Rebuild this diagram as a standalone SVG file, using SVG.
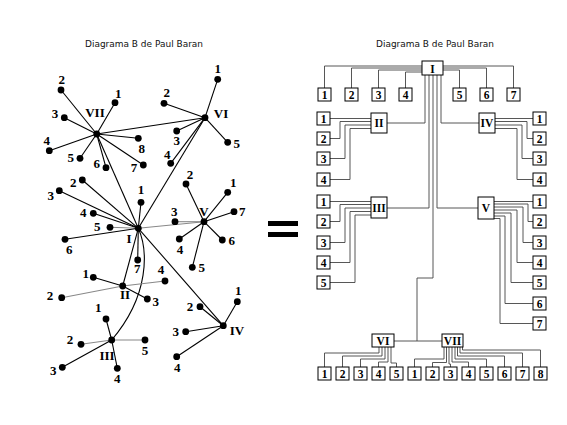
<svg xmlns="http://www.w3.org/2000/svg" width="567" height="425" viewBox="0 0 567 425">
<style>
.title{font-family:"DejaVu Sans","Liberation Sans",sans-serif;font-size:9.5px;fill:#111;text-anchor:middle}
.lbl{font-family:"Liberation Serif","Times New Roman",serif;font-weight:bold;font-size:13px;fill:#000;text-anchor:middle}
.hub{font-family:"Liberation Serif","Times New Roman",serif;font-weight:bold;font-size:13px;fill:#000;text-anchor:middle}
.e{stroke:#000;stroke-width:1.1;fill:none}
.eg{stroke:#888;stroke-width:1.1;fill:none}
.c{stroke:#444;stroke-width:0.9;fill:none}
.box{fill:#fff;stroke:#000;stroke-width:1}
.bt{font-family:"Liberation Serif","Times New Roman",serif;font-weight:bold;font-size:11.5px;fill:#000;text-anchor:middle}
</style>
<defs>
<circle id="dot" r="3.4" fill="#000"/>
</defs>
<rect width="567" height="425" fill="#fff"/>
<text class="title" x="144" y="47" textLength="118" lengthAdjust="spacingAndGlyphs">Diagrama B de Paul Baran</text>
<text class="title" x="435" y="47" textLength="118" lengthAdjust="spacingAndGlyphs">Diagrama B de Paul Baran</text>

<!-- LEFT: connectors -->
<g id="left-edges">
<line class="e" x1="96.7" y1="134" x2="205" y2="117.7"/>
<line class="e" x1="96.7" y1="134" x2="138.3" y2="228.3" stroke-width="1.6"/>
<line class="e" x1="205" y1="117.7" x2="138.3" y2="228.3"/>
<line class="eg" x1="138.3" y1="228.3" x2="204" y2="221.7"/>
<line class="e" x1="138.3" y1="228.3" x2="122.7" y2="286"/>
<line class="e" x1="138.3" y1="228.3" x2="223.3" y2="325.7"/>
<path class="e" d="M138.3,228.3 C148,250 150,295 111.7,340"/>
<!-- VII -->
<line class="e" x1="96.7" y1="134" x2="115" y2="102.7"/>
<line class="e" x1="96.7" y1="134" x2="61" y2="90"/>
<line class="e" x1="96.7" y1="134" x2="64.3" y2="117.7"/>
<line class="e" x1="96.7" y1="134" x2="49.3" y2="150.7"/>
<line class="e" x1="96.7" y1="134" x2="80" y2="158.3"/>
<line class="e" x1="96.7" y1="134" x2="106" y2="167.7"/>
<line class="e" x1="96.7" y1="134" x2="143.3" y2="165"/>
<line class="e" x1="96.7" y1="134" x2="138.3" y2="138.3"/>
<!-- VI -->
<line class="e" x1="205" y1="117.7" x2="217.7" y2="79.3"/>
<line class="e" x1="205" y1="117.7" x2="164" y2="103.3"/>
<line class="e" x1="205" y1="117.7" x2="176.7" y2="131"/>
<line class="e" x1="205" y1="117.7" x2="170.7" y2="163.3"/>
<line class="e" x1="205" y1="117.7" x2="227.7" y2="142.3"/>
<!-- I -->
<line class="e" x1="138.3" y1="228.3" x2="141" y2="202.3"/>
<line class="e" x1="138.3" y1="228.3" x2="82.3" y2="180"/>
<line class="e" x1="138.3" y1="228.3" x2="59.3" y2="190.7"/>
<line class="e" x1="138.3" y1="228.3" x2="93.3" y2="213.3"/>
<line class="eg" x1="138.3" y1="228.3" x2="110" y2="227.3"/>
<line class="e" x1="138.3" y1="228.3" x2="65" y2="239.3"/>
<line class="e" x1="138.3" y1="228.3" x2="137.7" y2="260"/>
<!-- V -->
<line class="e" x1="204" y1="221.7" x2="227.7" y2="192.3"/>
<line class="e" x1="204" y1="221.7" x2="186" y2="184"/>
<line class="eg" x1="204" y1="221.7" x2="175" y2="221.7"/>
<line class="e" x1="204" y1="221.7" x2="179.3" y2="239"/>
<line class="e" x1="204" y1="221.7" x2="192.3" y2="267.3"/>
<line class="e" x1="204" y1="221.7" x2="222.3" y2="240"/>
<line class="e" x1="204" y1="221.7" x2="234" y2="211.7"/>
<!-- II -->
<line class="e" x1="122.7" y1="286" x2="93.3" y2="277.3"/>
<line class="eg" x1="122.7" y1="286" x2="61.7" y2="297.7"/>
<line class="e" x1="122.7" y1="286" x2="147.3" y2="299"/>
<line class="eg" x1="122.7" y1="286" x2="165" y2="281"/>
<!-- III -->
<line class="e" x1="111.7" y1="340" x2="106" y2="319"/>
<line class="eg" x1="111.7" y1="340" x2="81" y2="344.3"/>
<line class="e" x1="111.7" y1="340" x2="62.3" y2="367.3"/>
<line class="e" x1="111.7" y1="340" x2="117.3" y2="368.3"/>
<line class="eg" x1="111.7" y1="340" x2="145" y2="340"/>
<!-- IV -->
<line class="e" x1="223.3" y1="325.7" x2="237.3" y2="301.7"/>
<line class="e" x1="223.3" y1="325.7" x2="200" y2="306.7"/>
<line class="e" x1="223.3" y1="325.7" x2="185.7" y2="331.7"/>
<line class="e" x1="223.3" y1="325.7" x2="176.7" y2="356.7"/>
</g>

<!-- LEFT: hubs -->
<g id="L-I"><use href="#dot" x="138.3" y="228.3"/><text class="hub" x="129" y="243">I</text></g>
<g id="L-II"><use href="#dot" x="122.7" y="286"/><text class="hub" x="125" y="299">II</text></g>
<g id="L-III"><use href="#dot" x="111.7" y="340"/><text class="hub" x="107" y="360">III</text></g>
<g id="L-IV"><use href="#dot" x="223.3" y="325.7"/><text class="hub" x="237" y="335">IV</text></g>
<g id="L-V"><use href="#dot" x="204" y="221.7"/><text class="hub" x="204" y="216">V</text></g>
<g id="L-VI"><use href="#dot" x="205" y="117.7"/><text class="hub" x="221" y="118">VI</text></g>
<g id="L-VII"><use href="#dot" x="96.7" y="134"/><text class="hub" x="95" y="117">VII</text></g>

<!-- LEFT: leaves -->
<g id="L-VII-1"><use href="#dot" x="115" y="102.7"/><text class="lbl" x="118.3" y="97.8">1</text></g>
<g id="L-VII-2"><use href="#dot" x="61" y="90"/><text class="lbl" x="61.7" y="83.8">2</text></g>
<g id="L-VII-3"><use href="#dot" x="64.3" y="117.7"/><text class="lbl" x="55" y="117.8">3</text></g>
<g id="L-VII-4"><use href="#dot" x="49.3" y="150.7"/><text class="lbl" x="46.7" y="145.2">4</text></g>
<g id="L-VII-5"><use href="#dot" x="80" y="158.3"/><text class="lbl" x="70.7" y="161.8">5</text></g>
<g id="L-VII-6"><use href="#dot" x="106" y="167.7"/><text class="lbl" x="96.7" y="167.8">6</text></g>
<g id="L-VII-7"><use href="#dot" x="143.3" y="165"/><text class="lbl" x="134" y="171.8">7</text></g>
<g id="L-VII-8"><use href="#dot" x="138.3" y="138.3"/><text class="lbl" x="141.7" y="152.8">8</text></g>
<g id="L-VI-1"><use href="#dot" x="217.7" y="79.3"/><text class="lbl" x="217.7" y="72.8">1</text></g>
<g id="L-VI-2"><use href="#dot" x="164" y="103.3"/><text class="lbl" x="166.7" y="97.2">2</text></g>
<g id="L-VI-3"><use href="#dot" x="176.7" y="131"/><text class="lbl" x="176.7" y="144.5">3</text></g>
<g id="L-VI-4"><use href="#dot" x="170.7" y="163.3"/><text class="lbl" x="167.3" y="158.8">4</text></g>
<g id="L-VI-5"><use href="#dot" x="227.7" y="142.3"/><text class="lbl" x="236.7" y="147.8">5</text></g>
<g id="L-I-1"><use href="#dot" x="141" y="202.3"/><text class="lbl" x="141" y="193.8">1</text></g>
<g id="L-I-2"><use href="#dot" x="82.3" y="180"/><text class="lbl" x="73.3" y="187.2">2</text></g>
<g id="L-I-3"><use href="#dot" x="59.3" y="190.7"/><text class="lbl" x="50.7" y="199.5">3</text></g>
<g id="L-I-4"><use href="#dot" x="93.3" y="213.3"/><text class="lbl" x="83.3" y="217.2">4</text></g>
<g id="L-I-5"><use href="#dot" x="110" y="227.3"/><text class="lbl" x="97.3" y="230.5">5</text></g>
<g id="L-I-6"><use href="#dot" x="65" y="239.3"/><text class="lbl" x="69.3" y="253.8">6</text></g>
<g id="L-I-7"><use href="#dot" x="137.7" y="260"/><text class="lbl" x="137.3" y="272.8">7</text></g>
<g id="L-V-1"><use href="#dot" x="227.7" y="192.3"/><text class="lbl" x="233.3" y="187.2">1</text></g>
<g id="L-V-2"><use href="#dot" x="186" y="184"/><text class="lbl" x="190" y="178.8">2</text></g>
<g id="L-V-3"><use href="#dot" x="175" y="221.7"/><text class="lbl" x="174.3" y="216.2">3</text></g>
<g id="L-V-4"><use href="#dot" x="179.3" y="239"/><text class="lbl" x="180" y="253.8">4</text></g>
<g id="L-V-5"><use href="#dot" x="192.3" y="267.3"/><text class="lbl" x="201.7" y="272.2">5</text></g>
<g id="L-V-6"><use href="#dot" x="222.3" y="240"/><text class="lbl" x="231.7" y="244.5">6</text></g>
<g id="L-V-7"><use href="#dot" x="234" y="211.7"/><text class="lbl" x="242.3" y="216.2">7</text></g>
<g id="L-II-1"><use href="#dot" x="93.3" y="277.3"/><text class="lbl" x="85.7" y="277.8">1</text></g>
<g id="L-II-2"><use href="#dot" x="61.7" y="297.7"/><text class="lbl" x="50" y="299.5">2</text></g>
<g id="L-II-3"><use href="#dot" x="147.3" y="299"/><text class="lbl" x="155.7" y="306.2">3</text></g>
<g id="L-II-4"><use href="#dot" x="165" y="281"/><text class="lbl" x="161" y="273.5">4</text></g>
<g id="L-III-1"><use href="#dot" x="106" y="319"/><text class="lbl" x="98.3" y="311.8">1</text></g>
<g id="L-III-2"><use href="#dot" x="81" y="344.3"/><text class="lbl" x="70" y="343.5">2</text></g>
<g id="L-III-3"><use href="#dot" x="62.3" y="367.3"/><text class="lbl" x="53.3" y="374.5">3</text></g>
<g id="L-III-4"><use href="#dot" x="117.3" y="368.3"/><text class="lbl" x="117.3" y="382.8">4</text></g>
<g id="L-III-5"><use href="#dot" x="145" y="340"/><text class="lbl" x="145" y="354.5">5</text></g>
<g id="L-IV-1"><use href="#dot" x="237.3" y="301.7"/><text class="lbl" x="238.3" y="295.2">1</text></g>
<g id="L-IV-2"><use href="#dot" x="200" y="306.7"/><text class="lbl" x="190" y="310.5">2</text></g>
<g id="L-IV-3"><use href="#dot" x="185.7" y="331.7"/><text class="lbl" x="175.7" y="335.5">3</text></g>
<g id="L-IV-4"><use href="#dot" x="176.7" y="356.7"/><text class="lbl" x="177.3" y="371.8">4</text></g>

<!-- equals -->
<g id="equals"><rect x="268" y="221" width="30" height="5" fill="#000"/><rect x="268" y="232" width="30" height="5" fill="#000"/></g>

<!-- RIGHT: connectors -->
<g id="right-edges">
<path class="c" d="M324.5,88 V66 H422"/>
<path class="c" d="M351.5,88 V68 H422"/>
<path class="c" d="M378.5,88 V70 H422"/>
<path class="c" d="M405.5,88 V72 H422"/>
<path class="c" d="M459.5,88 V70 H443"/>
<path class="c" d="M486.5,88 V68 H443"/>
<path class="c" d="M513.5,88 V66 H443"/>
<path class="c" d="M425,75 V123 H387"/>
<path class="c" d="M429,75 V208 H387"/>
<path class="c" d="M433,75 V278 H417 V341"/>
<path class="c" d="M437,75 V208 H478"/>
<path class="c" d="M441,75 V123 H479"/>
<path class="c" d="M394,341 H442"/>
<!-- II -->
<path class="c" d="M330,118.5 H371"/>
<path class="c" d="M330,138.5 H340 V121.5 H371"/>
<path class="c" d="M330,158.5 H345 V125 H371"/>
<path class="c" d="M330,179.5 H350 V128.5 H371"/>
<!-- IV -->
<path class="c" d="M495,118.5 H533"/>
<path class="c" d="M495,121.5 H527 V138.5 H533"/>
<path class="c" d="M495,125 H522 V158.5 H533"/>
<path class="c" d="M495,128.5 H517 V179.5 H533"/>
<!-- III -->
<path class="c" d="M330,201.5 H371"/>
<path class="c" d="M330,221.5 H340 V204.5 H371"/>
<path class="c" d="M330,242.5 H345 V208 H371"/>
<path class="c" d="M330,262.5 H350 V211.5 H371"/>
<path class="c" d="M330,282.5 H355 V215 H371"/>
<!-- V -->
<path class="c" d="M494,201.5 H533"/>
<path class="c" d="M494,204 H528 V221.5 H533"/>
<path class="c" d="M494,207 H523 V242.5 H533"/>
<path class="c" d="M494,210 H517 V262.5 H533"/>
<path class="c" d="M494,213 H511 V282.5 H533"/>
<path class="c" d="M494,216 H505 V303.5 H533"/>
<path class="c" d="M494,218.5 H500 V323.5 H533"/>
<!-- VI -->
<path class="c" d="M379,347 V353 H324.5 V367"/>
<path class="c" d="M382,347 V356 H342.5 V367"/>
<path class="c" d="M385,347 V359 H360.5 V367"/>
<path class="c" d="M388,347 V362 H378.5 V367"/>
<path class="c" d="M391,347 V363 H396.5 V367"/>
<!-- VII -->
<path class="c" d="M444,347 V359 H414.5 V367"/>
<path class="c" d="M446.5,347 V362.5 H432.5 V367"/>
<path class="c" d="M449,347 V364 H450.5 V367"/>
<path class="c" d="M452,347 V362 H468.5 V367"/>
<path class="c" d="M455,347 V359 H486.5 V367"/>
<path class="c" d="M457.5,347 V356 H504.5 V367"/>
<path class="c" d="M460,347 V353 H522.5 V367"/>
<path class="c" d="M462.5,347 V350 H540.5 V367"/>
</g>

<!-- RIGHT: hub boxes -->
<g id="R-I"><rect class="box" x="422" y="61" width="21" height="14"/><text class="bt" x="432.5" y="72.5">I</text></g>
<g id="R-II"><rect class="box" x="371" y="113" width="16" height="20"/><text class="bt" x="379" y="127">II</text></g>
<g id="R-III"><rect class="box" x="371" y="197" width="16" height="21"/><text class="bt" x="379" y="211.5">III</text></g>
<g id="R-IV"><rect class="box" x="479" y="113" width="16" height="20"/><text class="bt" x="487" y="127">IV</text></g>
<g id="R-V"><rect class="box" x="478" y="197" width="16" height="22"/><text class="bt" x="486" y="212">V</text></g>
<g id="R-VI"><rect class="box" x="372" y="334" width="22" height="13"/><text class="bt" x="383" y="344.5">VI</text></g>
<g id="R-VII"><rect class="box" x="442" y="334" width="21" height="13"/><text class="bt" x="452.5" y="344.5">VII</text></g>

<!-- RIGHT: I leaves -->
<g id="R-I-1"><rect class="box" x="318" y="88" width="13" height="13"/><text class="bt" x="324.5" y="98.5">1</text></g>
<g id="R-I-2"><rect class="box" x="345" y="88" width="13" height="13"/><text class="bt" x="351.5" y="98.5">2</text></g>
<g id="R-I-3"><rect class="box" x="372" y="88" width="13" height="13"/><text class="bt" x="378.5" y="98.5">3</text></g>
<g id="R-I-4"><rect class="box" x="399" y="88" width="13" height="13"/><text class="bt" x="405.5" y="98.5">4</text></g>
<g id="R-I-5"><rect class="box" x="453" y="88" width="13" height="13"/><text class="bt" x="459.5" y="98.5">5</text></g>
<g id="R-I-6"><rect class="box" x="480" y="88" width="13" height="13"/><text class="bt" x="486.5" y="98.5">6</text></g>
<g id="R-I-7"><rect class="box" x="507" y="88" width="13" height="13"/><text class="bt" x="513.5" y="98.5">7</text></g>
<!-- II leaves -->
<g id="R-II-1"><rect class="box" x="317" y="112" width="13" height="13"/><text class="bt" x="323.5" y="122.5">1</text></g>
<g id="R-II-2"><rect class="box" x="317" y="132" width="13" height="13"/><text class="bt" x="323.5" y="142.5">2</text></g>
<g id="R-II-3"><rect class="box" x="317" y="152" width="13" height="13"/><text class="bt" x="323.5" y="162.5">3</text></g>
<g id="R-II-4"><rect class="box" x="317" y="173" width="13" height="13"/><text class="bt" x="323.5" y="183.5">4</text></g>
<!-- IV leaves -->
<g id="R-IV-1"><rect class="box" x="533" y="112" width="13" height="13"/><text class="bt" x="539.5" y="122.5">1</text></g>
<g id="R-IV-2"><rect class="box" x="533" y="132" width="13" height="13"/><text class="bt" x="539.5" y="142.5">2</text></g>
<g id="R-IV-3"><rect class="box" x="533" y="152" width="13" height="13"/><text class="bt" x="539.5" y="162.5">3</text></g>
<g id="R-IV-4"><rect class="box" x="533" y="173" width="13" height="13"/><text class="bt" x="539.5" y="183.5">4</text></g>
<!-- III leaves -->
<g id="R-III-1"><rect class="box" x="317" y="195" width="13" height="13"/><text class="bt" x="323.5" y="205.5">1</text></g>
<g id="R-III-2"><rect class="box" x="317" y="215" width="13" height="13"/><text class="bt" x="323.5" y="225.5">2</text></g>
<g id="R-III-3"><rect class="box" x="317" y="236" width="13" height="13"/><text class="bt" x="323.5" y="246.5">3</text></g>
<g id="R-III-4"><rect class="box" x="317" y="256" width="13" height="13"/><text class="bt" x="323.5" y="266.5">4</text></g>
<g id="R-III-5"><rect class="box" x="317" y="276" width="13" height="13"/><text class="bt" x="323.5" y="286.5">5</text></g>
<!-- V leaves -->
<g id="R-V-1"><rect class="box" x="533" y="195" width="13" height="13"/><text class="bt" x="539.5" y="205.5">1</text></g>
<g id="R-V-2"><rect class="box" x="533" y="215" width="13" height="13"/><text class="bt" x="539.5" y="225.5">2</text></g>
<g id="R-V-3"><rect class="box" x="533" y="236" width="13" height="13"/><text class="bt" x="539.5" y="246.5">3</text></g>
<g id="R-V-4"><rect class="box" x="533" y="256" width="13" height="13"/><text class="bt" x="539.5" y="266.5">4</text></g>
<g id="R-V-5"><rect class="box" x="533" y="276" width="13" height="13"/><text class="bt" x="539.5" y="286.5">5</text></g>
<g id="R-V-6"><rect class="box" x="533" y="297" width="13" height="13"/><text class="bt" x="539.5" y="307.5">6</text></g>
<g id="R-V-7"><rect class="box" x="533" y="317" width="13" height="13"/><text class="bt" x="539.5" y="327.5">7</text></g>
<!-- VI leaves -->
<g id="R-VI-1"><rect class="box" x="318" y="367" width="13" height="13"/><text class="bt" x="324.5" y="377.5">1</text></g>
<g id="R-VI-2"><rect class="box" x="336" y="367" width="13" height="13"/><text class="bt" x="342.5" y="377.5">2</text></g>
<g id="R-VI-3"><rect class="box" x="354" y="367" width="13" height="13"/><text class="bt" x="360.5" y="377.5">3</text></g>
<g id="R-VI-4"><rect class="box" x="372" y="367" width="13" height="13"/><text class="bt" x="378.5" y="377.5">4</text></g>
<g id="R-VI-5"><rect class="box" x="390" y="367" width="13" height="13"/><text class="bt" x="396.5" y="377.5">5</text></g>
<!-- VII leaves -->
<g id="R-VII-1"><rect class="box" x="408" y="367" width="13" height="13"/><text class="bt" x="414.5" y="377.5">1</text></g>
<g id="R-VII-2"><rect class="box" x="426" y="367" width="13" height="13"/><text class="bt" x="432.5" y="377.5">2</text></g>
<g id="R-VII-3"><rect class="box" x="444" y="367" width="13" height="13"/><text class="bt" x="450.5" y="377.5">3</text></g>
<g id="R-VII-4"><rect class="box" x="462" y="367" width="13" height="13"/><text class="bt" x="468.5" y="377.5">4</text></g>
<g id="R-VII-5"><rect class="box" x="480" y="367" width="13" height="13"/><text class="bt" x="486.5" y="377.5">5</text></g>
<g id="R-VII-6"><rect class="box" x="498" y="367" width="13" height="13"/><text class="bt" x="504.5" y="377.5">6</text></g>
<g id="R-VII-7"><rect class="box" x="516" y="367" width="13" height="13"/><text class="bt" x="522.5" y="377.5">7</text></g>
<g id="R-VII-8"><rect class="box" x="534" y="367" width="13" height="13"/><text class="bt" x="540.5" y="377.5">8</text></g>
</svg>
